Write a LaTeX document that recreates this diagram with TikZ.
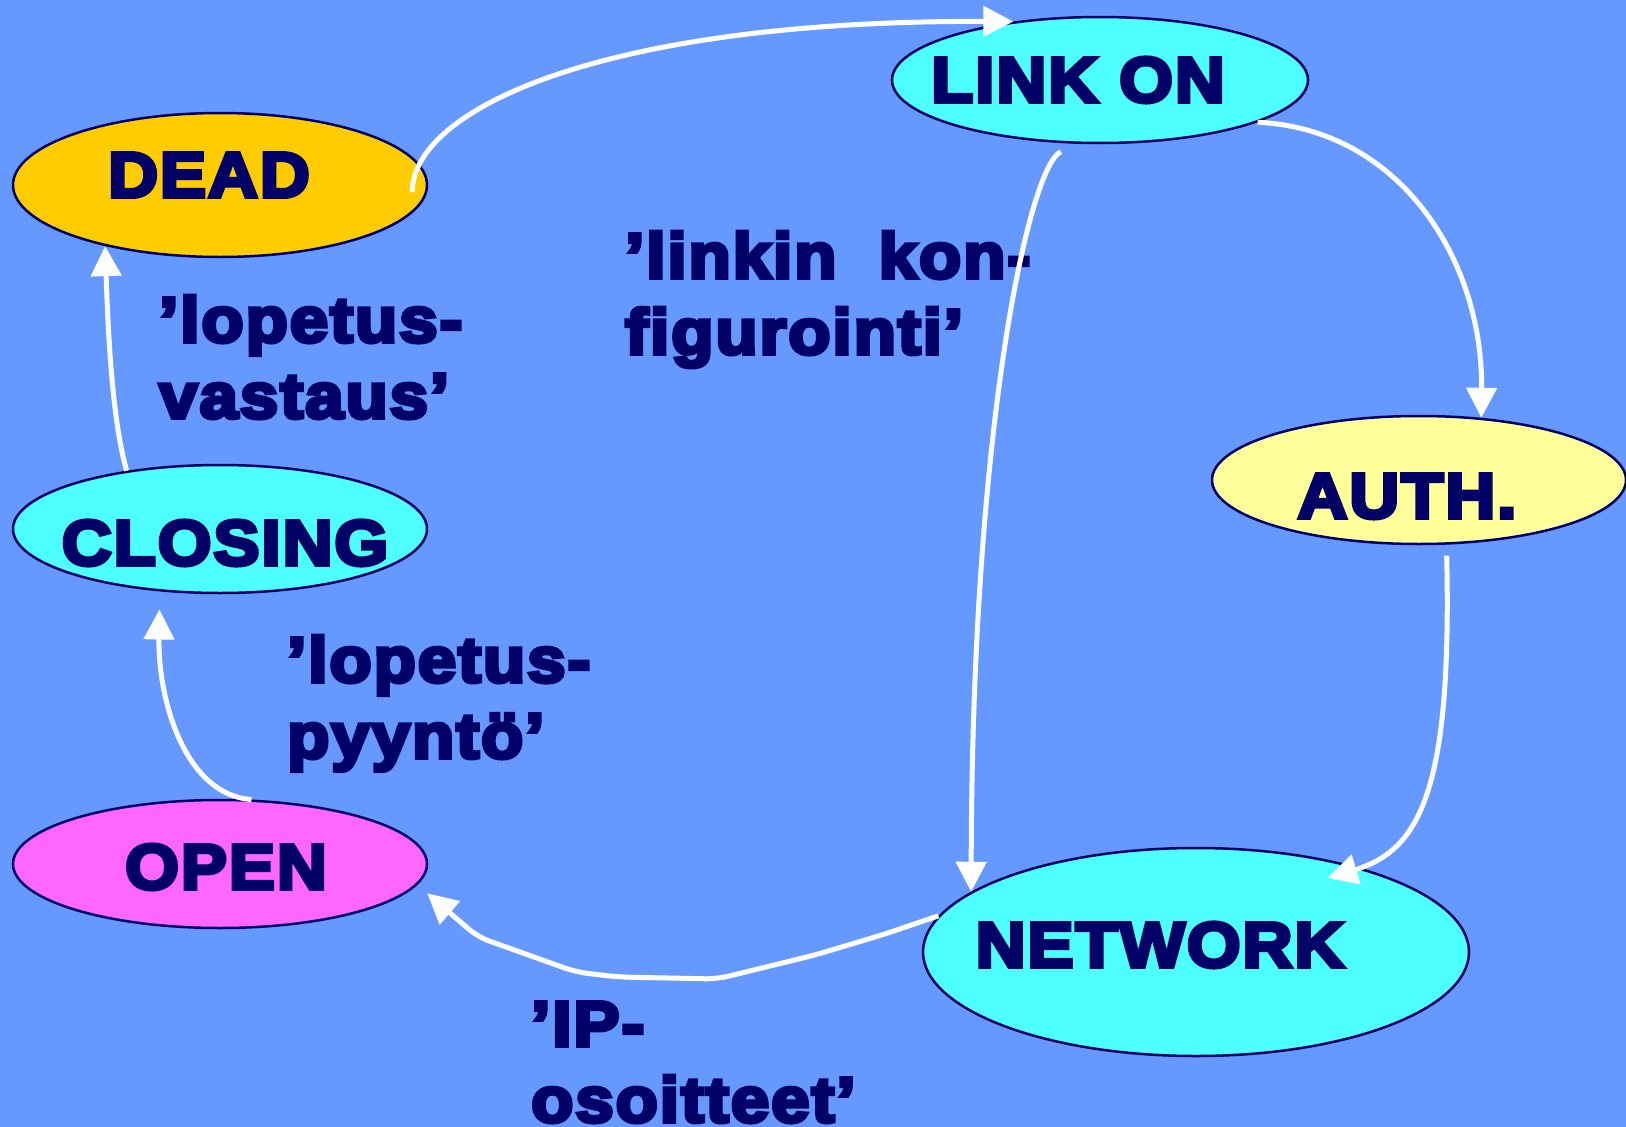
\documentclass[tikz,border=0pt]{standalone}
\usepackage{fontspec}
\newfontfamily\heavyfont{Liberation Sans}[FakeStretch=1.08,FakeBold=6,LetterSpace=3]
\usetikzlibrary{shapes.geometric,arrows.meta}
\definecolor{bgblue}{HTML}{6699FF}
\definecolor{navy}{HTML}{000066}
\definecolor{cyanfill}{HTML}{4DFFFF}
\definecolor{deadfill}{HTML}{FFCC00}
\definecolor{authfill}{HTML}{FFFF99}
\definecolor{openfill}{HTML}{FF66FF}
\newcommand\ovaltext[3]{\raisebox{#2}[0pt][0pt]{\makebox[0pt]{\hspace*{#1}#3}}}
\begin{document}
\begin{tikzpicture}[x=1pt,y=-1pt,
  stateoval/.style={draw=navy, line width=2.5pt, ellipse, inner sep=0pt, minimum width=414pt, minimum height=128pt, text=navy, font=\heavyfont\bfseries\fontsize{64}{76}\selectfont},
  edgelabel/.style={anchor=base west, align=left, inner sep=0pt, text=navy, font=\heavyfont\bfseries\fontsize{64}{76}\selectfont},
  wire/.style={white, line width=5pt, -{Triangle[length=30pt,width=30pt]}}]
\useasboundingbox (0,0) rectangle (1626,1127);
\fill [bgblue] (0,0) rectangle (1626,1127);
\node (dead) [stateoval, fill=deadfill, minimum height=144pt] at (220,185) {\ovaltext{-22pt}{-12pt}{DEAD}};
\node (closing) [stateoval, fill=cyanfill, below of=dead, node distance=344pt] {\ovaltext{10pt}{-36pt}{CLOSING}};
\node (open) [stateoval, fill=openfill, below of=closing, node distance=335pt] {\ovaltext{12pt}{-25pt}{OPEN}};
\node (linkon) [stateoval, fill=cyanfill, minimum width=416pt, minimum height=126pt] at (1100,80) {\ovaltext{-44pt}{-22pt}{LINK ON}};
\node (auth) [stateoval, fill=authfill] at (1419,480) {\ovaltext{-24pt}{-38pt}{AUTH.}};
\node (network) [stateoval, fill=cyanfill, minimum width=546pt, minimum height=208pt] at (1196,952) {\ovaltext{-72pt}{-15pt}{NETWORK}};

\node (vastaus) [edgelabel] at (159,418) {’lopetus-\\vastaus’};
\node (konfig) [edgelabel] at (625,354) {’linkin\ \ kon-\\figurointi’};
\node (pyynto) [edgelabel] at (287,758) {’lopetus-\\pyyntö’};
\node (osoitteet) [edgelabel] at (531,1122) {’IP-\\osoitteet’};

\draw [wire] ([xshift=-15pt]dead.-2) .. controls (412,110) and (600,20) .. (linkon.146);
\draw [wire] (linkon.-15) .. controls (1400,129) and (1483,260) .. (auth.45);
\draw [wire, shorten <=20pt] (linkon.-108) .. controls (1030,165) and (972,420) .. (network.165);
\draw [wire, shorten <=11pt, shorten >=-35pt] (auth.-67) .. controls (1452,790) and (1420,850) .. (network.27);
\draw [wire, rounded corners=12pt, shorten >=13pt] (network.172) -- (885,934) -- (815,955) -- (717,979) -- (618,977) -- (576,972) -- (478,937) -- (450,913) -- (open.-6);
\draw [wire, shorten >=18pt] (open.64) .. controls (185,795) and (158,700) .. (closing.-134);
\draw [wire] (closing.148) .. controls (112,420) and (108,330) .. (dead.-152);
\end{tikzpicture}
\end{document}
